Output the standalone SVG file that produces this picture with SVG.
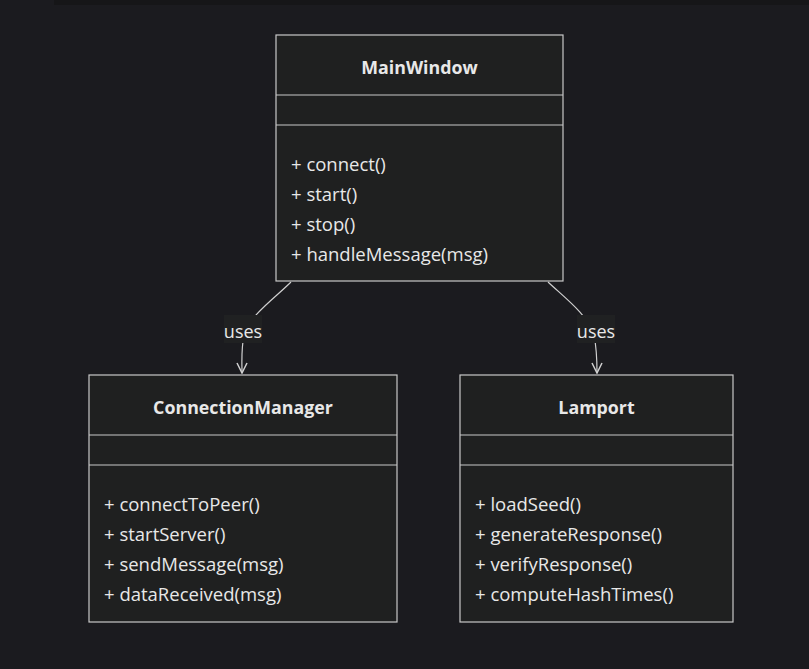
<svg xmlns="http://www.w3.org/2000/svg" width="809" height="669" viewBox="0 0 809 669">
<style>
.box{fill:#1f2020;stroke:#c8c8c8;stroke-width:1.2}
.div{stroke:#c8c8c8;stroke-width:1.2}
.title{font-family:"Open Sans","Noto Sans",sans-serif;font-weight:bold;font-size:17.8px;fill:#e8e8e8;text-anchor:middle}
.m{font-family:"Open Sans","Noto Sans",sans-serif;font-size:18.5px;fill:#e8e8e8}
.edge{fill:none;stroke:#d0d0d0;stroke-width:1.2}
.lbl{font-family:"Open Sans","Noto Sans",sans-serif;font-size:18px;fill:#e8e8e8;text-anchor:middle}
.lblbg{fill:#202122}
</style>
<defs>
<marker id="arr" viewBox="0 0 12 12" refX="11" refY="6" markerWidth="12" markerHeight="12" orient="auto" markerUnits="userSpaceOnUse">
<path d="M1,1 L11,6 L1,11" fill="none" stroke="#d0d0d0" stroke-width="1.5"/>
</marker>
</defs>
<rect width="809" height="669" fill="#1b1b1f"/>
<rect x="54" y="0" width="755" height="5" fill="#161618"/>
<g id="connectors">
<path class="edge" d="M291,282 C275,298 250,315 244,335 C241,350 242,362 242,373" marker-end="url(#arr)"/>
<path class="edge" d="M548,282 C565,298 588,315 594,335 C597,350 597,362 597,373" marker-end="url(#arr)"/>
<rect class="lblbg" x="224" y="315" width="38" height="28"/>
<text class="lbl" x="243" y="338">uses</text>
<rect class="lblbg" x="577" y="315" width="38" height="28"/>
<text class="lbl" x="596" y="338">uses</text>
</g>
<g id="MainWindow">
<rect class="box" x="276" y="35" width="287" height="246"/>
<line class="div" x1="276" y1="95" x2="563" y2="95"/>
<line class="div" x1="276" y1="125" x2="563" y2="125"/>
<text class="title" x="419.5" y="74">MainWindow</text>
<text class="m" x="291" y="171">+ connect()</text>
<text class="m" x="291" y="201">+ start()</text>
<text class="m" x="291" y="231">+ stop()</text>
<text class="m" x="291" y="261">+ handleMessage(msg)</text>
</g>
<g id="ConnectionManager">
<rect class="box" x="89" y="375" width="308" height="247"/>
<line class="div" x1="89" y1="435" x2="397" y2="435"/>
<line class="div" x1="89" y1="465" x2="397" y2="465"/>
<text class="title" x="243" y="414">ConnectionManager</text>
<text class="m" x="104" y="511">+ connectToPeer()</text>
<text class="m" x="104" y="541">+ startServer()</text>
<text class="m" x="104" y="571">+ sendMessage(msg)</text>
<text class="m" x="104" y="601">+ dataReceived(msg)</text>
</g>
<g id="Lamport">
<rect class="box" x="460" y="375" width="273" height="247"/>
<line class="div" x1="460" y1="435" x2="733" y2="435"/>
<line class="div" x1="460" y1="465" x2="733" y2="465"/>
<text class="title" x="596.5" y="414">Lamport</text>
<text class="m" x="475" y="511">+ loadSeed()</text>
<text class="m" x="475" y="541">+ generateResponse()</text>
<text class="m" x="475" y="571">+ verifyResponse()</text>
<text class="m" x="475" y="601">+ computeHashTimes()</text>
</g>
</svg>
